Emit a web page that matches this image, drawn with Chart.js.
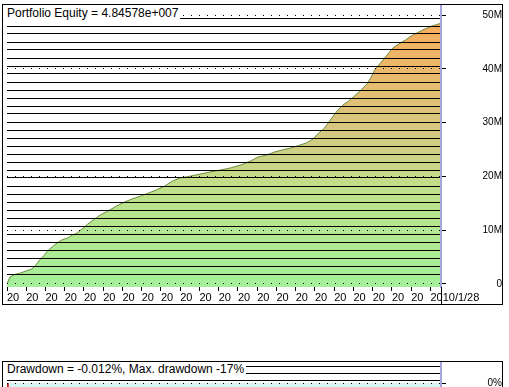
<!DOCTYPE html>
<html>
<head>
<meta charset="utf-8">
<script src="https://cdn.jsdelivr.net/npm/chart.js@4.4.1/dist/chart.umd.min.js"></script>
<style>
  body { margin: 0; background: #fff; width: 509px; height: 387px; overflow: hidden;
         font-family: "Liberation Sans", Arial, sans-serif; }
  .panel { position: absolute; left: 2px; width: 499px; border: 1px solid #000; background: #fff; }
  #eqPanel { top: 4px; height: 299px; }
  #ddPanel { top: 361px; height: 220px; }
  .panel canvas { position: absolute; left: 0; top: 0; }
  .title { position: absolute; left: 4px; background: #fff; font-size: 12px; line-height: 15px;
           color: #000; white-space: nowrap; padding-right: 2px; }
  #eqTitle { top: 1px; }
  #ddTitle { top: 0; }
</style>
</head>
<body>
<div class="panel" id="eqPanel">
  <canvas id="eq" width="499" height="299"></canvas>
  <span class="title" id="eqTitle">Portfolio Equity = 4.84578e+007</span>
</div>
<div class="panel" id="ddPanel">
  <canvas id="dd" width="499" height="220"></canvas>
  <span class="title" id="ddTitle">Drawdown = -0.012%, Max. drawdown -17%</span>
</div>
<script>
// equity curve (bar number, value in millions)
const equityBars = [0, 3, 8, 14, 20, 26, 30, 34, 39, 43, 47, 52, 57, 63, 68, 73, 78, 84, 91, 97,
  105, 114, 122, 130, 139, 147, 155, 164, 172, 180, 191, 201, 211, 222, 232, 243, 253, 261, 270, 278,
  286, 295, 303, 311, 318, 324, 330, 336, 343, 349, 355, 361, 368, 374, 378, 382, 389, 395, 401, 407,
  414, 420, 426, 432, 439, 445, 451];
const equityM = [0, 1.30, 1.77, 2.04, 2.42, 2.79, 3.53, 4.46, 5.39, 6.32, 6.88, 7.62, 8.18, 8.55, 9.11, 9.48, 10.22, 11.15, 12.08, 12.83,
  13.57, 14.50, 15.24, 15.80, 16.36, 16.91, 17.47, 18.22, 19.14, 19.70, 20.07, 20.45, 20.82, 21.19, 21.56, 22.12, 22.86, 23.61, 23.98, 24.54,
  24.91, 25.28, 25.74, 26.21, 26.95, 28.07, 29.00, 30.48, 32.16, 33.27, 34.01, 34.94, 36.06, 37.17, 38.29, 39.78, 41.26, 42.57, 43.87, 44.61,
  45.35, 46.10, 46.65, 47.21, 47.77, 48.14, 48.46];

// drawdown in percent (only its top edge is visible)
const ddBars = [0, 1, 20, 40, 60, 85, 110, 135, 160, 185, 210, 240, 270, 300, 320, 345, 370, 395, 420, 445, 451];
const ddPct = [0, -4.5, -2.5, -6, -3.5, -8, -5, -17, -9, -4, -6, -3, -7, -10, -4, -2.5, -5, -8, -3, -6, -0.012];

// axis ticks
const xTickBars = [0, 20, 40, 60, 80, 100, 120, 140, 160, 180, 200, 220, 240, 260, 280, 300, 320, 340, 360, 380, 400, 420, 440];
const xTickLabels = ['20', '20', '20', '20', '20', '20', '20', '20', '20', '20', '20', '20', '20', '20', '20', '20', '20', '20', '20', '20', '20', '20', '2010/1/28'];
const eqTicksM = [0, 10, 20, 30, 40, 50];
const ddTicks = [0, -5, -10, -15, -20];

Chart.defaults.font.family = '"Liberation Sans", Arial, sans-serif';
Chart.defaults.color = '#000';

function zeroPad(s) { s.paddingTop = 0; s.paddingBottom = 0; s.paddingLeft = 0; s.paddingRight = 0; }

let eqGrad = null;
function eqFill(c) {
  const { ctx, chartArea } = c.chart;
  if (!chartArea) return 'rgba(0,0,0,0)';
  if (!eqGrad) {
    eqGrad = ctx.createLinearGradient(0, chartArea.bottom, 0, chartArea.top);
    eqGrad.addColorStop(0, '#a4f09a');
    eqGrad.addColorStop(0.35, '#c0e08a');
    eqGrad.addColorStop(0.55, '#d6c880');
    eqGrad.addColorStop(0.78, '#ecb86a');
    eqGrad.addColorStop(1, '#f9a857');
  }
  return eqGrad;
}

// stripe scale: one black line every stripe unit across the plot
function stripeScale(count, first, max) {
  return {
    position: 'left', min: 0, max: max,
    afterBuildTicks: s => { s.ticks = Array.from({ length: count }, (_, i) => ({ value: first + i })); },
    afterFit: s => { s.width = 0; zeroPad(s); },
    ticks: { display: false },
    grid: { color: '#000', lineWidth: 1, drawTicks: false, z: 1 },
    border: { display: false }
  };
}

// black separator under the plot's right edge, through the label row
const labelRowEdge = {
  id: 'labelRowEdge',
  afterDraw(chart) {
    const { ctx, chartArea } = chart;
    const x = Math.round(chartArea.right) + 0.5;
    ctx.save();
    ctx.strokeStyle = '#000';
    ctx.lineWidth = 1;
    ctx.beginPath();
    ctx.moveTo(x, chartArea.bottom);
    ctx.lineTo(x, chart.height);
    ctx.stroke();
    ctx.restore();
  }
};

new Chart(document.getElementById('eq'), {
  type: 'line',
  data: {
    datasets: [{
      data: equityBars.map((b, i) => ({ x: b, y: equityM[i] * 1e6 })),
      borderColor: '#6a8c3c',
      borderWidth: 1,
      backgroundColor: eqFill,
      fill: 'start',
      pointRadius: 0,
      tension: 0
    }]
  },
  options: {
    responsive: false,
    animation: false,
    layout: { padding: { left: 4, top: 0, right: 0, bottom: 0 } },
    plugins: { legend: { display: false }, tooltip: { enabled: false } },
    scales: {
      x: {
        type: 'linear', min: 0, max: 451,
        afterBuildTicks: s => { s.ticks = xTickBars.map(v => ({ value: v })); },
        afterFit: s => { s.height = 17; zeroPad(s); },
        ticks: {
          autoSkip: false, maxRotation: 0, align: 'start', padding: 0,
          font: { size: 11 },
          callback: (v, i) => xTickLabels[i]
        },
        grid: { drawOnChartArea: false, color: '#000', tickLength: 4 },
        border: { display: false }
      },
      y: {
        position: 'right', min: -0.56e6, max: 51.86e6,
        afterBuildTicks: s => { s.ticks = eqTicksM.map(v => ({ value: v * 1e6 })); },
        afterFit: s => { s.width = 61; zeroPad(s); },
        ticks: {
          crossAlign: 'far', padding: 34, font: { size: 10 },
          callback: v => v === 0 ? '0' : (v / 1e6) + 'M'
        },
        grid: { color: '#000', lineWidth: 1, tickLength: 5, tickBorderDash: [], z: 2 },
        border: { display: true, color: '#a6a6dc', width: 2, dash: [1, 7], z: 3 }
      },
      y2: stripeScale(33, 1.625, 35.25)
    }
  },
  plugins: [labelRowEdge]
});

new Chart(document.getElementById('dd'), {
  type: 'line',
  data: {
    datasets: [{
      data: ddBars.map((b, i) => ({ x: b, y: ddPct[i] })),
      borderColor: '#d00000',
      borderWidth: 1,
      backgroundColor: '#d6f6f6',
      fill: 'origin',
      pointRadius: 0,
      tension: 0
    }]
  },
  options: {
    responsive: false,
    animation: false,
    layout: { padding: { left: 4, top: 0, right: 0, bottom: 0 } },
    plugins: { legend: { display: false }, tooltip: { enabled: false } },
    scales: {
      x: {
        type: 'linear', min: 0, max: 451,
        afterFit: s => { s.height = 20; zeroPad(s); },
        ticks: { display: false },
        grid: { display: false },
        border: { display: false }
      },
      y: {
        position: 'right', min: -20, max: 2.35,
        afterBuildTicks: s => { s.ticks = ddTicks.map(v => ({ value: v })); },
        afterFit: s => { s.width = 61; zeroPad(s); },
        ticks: {
          crossAlign: 'far', padding: 31, font: { size: 10 },
          callback: v => v + '%'
        },
        grid: { color: '#000', lineWidth: 1, tickLength: 5, tickBorderDash: [], z: 2 },
        border: { display: true, color: '#a6a6dc', width: 2, dash: [1, 7], z: 3 }
      },
      y2: stripeScale(28, 0.857, 28.571)
    }
  }
});
</script>
</body>
</html>
